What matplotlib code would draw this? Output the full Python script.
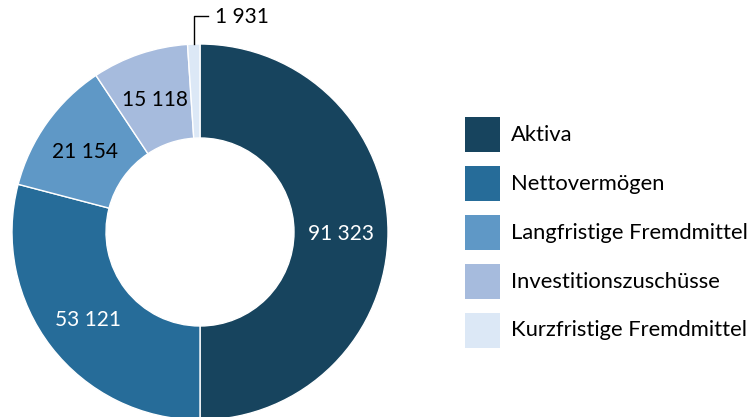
import numpy as np
import matplotlib.pyplot as plt
from matplotlib.patches import Rectangle

plt.rcParams['font.family'] = ['Lato', 'DejaVu Sans']

labels = ['Aktiva', 'Nettovermögen', 'Langfristige Fremdmittel',
          'Investitionszuschüsse', 'Kurzfristige Fremdmittel']
values = [91323, 53121, 21154, 15118, 1931]
value_text = ['91 323', '53 121', '21 154', '15 118', '1 931']
colors = ['#17445e', '#266c99', '#5f98c6', '#a6bbdd', '#dce8f6']
text_colors = ['white', 'white', 'black', 'black', 'black']

W, H = 750, 417
fig = plt.figure(figsize=(W/100, H/100), dpi=100)
ax = fig.add_axes([0, 0, 1, 1])

cx, cy = 200, H - 232
R = 188
ring = 0.5

wedges, _ = ax.pie(values, colors=colors, startangle=90, counterclock=False,
                   radius=R, center=(cx, cy),
                   wedgeprops=dict(width=R*ring, edgecolor='white', linewidth=1))
ax.set_xlim(0, W)
ax.set_ylim(0, H)
ax.set_aspect('equal')
ax.axis('off')

fs = 15
for i, w in enumerate(wedges):
    mid = np.deg2rad((w.theta1 + w.theta2) / 2)
    if i < 4:
        r = R * 0.75
        ax.text(cx + r*np.cos(mid), cy + r*np.sin(mid) - 2, value_text[i],
                ha='center', va='center', fontsize=fs, color=text_colors[i])
    else:
        # leader line for the small slice
        x0 = cx + R*np.cos(mid)
        y0 = cy + R*np.sin(mid)
        ytop = H - 16
        ax.plot([x0, x0, x0 + 14], [y0, ytop, ytop], color='black', lw=1)
        ax.text(x0 + 21, ytop - 1, value_text[i], ha='left', va='center',
                fontsize=fs, color='black')

# legend
for i, lab in enumerate(labels):
    top = H - 117 - i*49
    ax.add_patch(Rectangle((465, top - 35), 35, 35, facecolor=colors[i], edgecolor='none'))
    ax.text(511, top - 17.5, lab, ha='left', va='center', fontsize=15.8, color='black')

fig.savefig('out.png', dpi=100)
